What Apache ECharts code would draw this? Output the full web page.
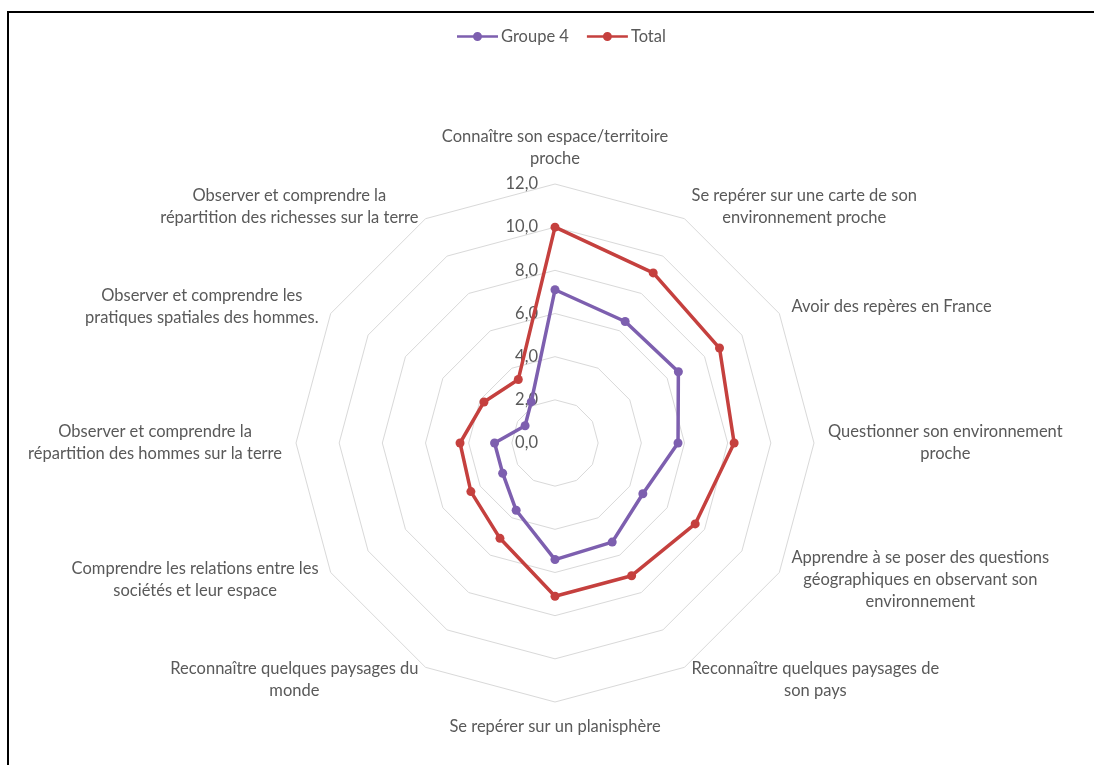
<!DOCTYPE html>
<html>
<head>
<meta charset="utf-8">
<script src="https://cdn.jsdelivr.net/npm/echarts@6/dist/echarts.min.js"></script>
<style>
html,body{margin:0;padding:0;background:#fff;}
#chart{position:absolute;left:0;top:0;width:1094px;height:765px;}
#frame{position:absolute;left:7px;top:11px;width:1087px;height:754px;border-left:2px solid #000;border-top:2px solid #000;box-sizing:border-box;pointer-events:none;}
</style>
</head>
<body>
<div id="chart"></div>
<div id="frame"></div>
<script>
// Axes listed clockwise starting from the top
const categories = [
  "Connaître son espace/territoire\nproche",
  "Se repérer sur une carte de son\nenvironnement proche",
  "Avoir des repères en France",
  "Questionner son environnement\nproche",
  "Apprendre à se poser des questions\ngéographiques en observant son\nenvironnement",
  "Reconnaître quelques paysages de\nson pays",
  "Se repérer sur un planisphère",
  "Reconnaître quelques paysages du\nmonde",
  "Comprendre les relations entre les\nsociétés et leur espace",
  "Observer et comprendre la\nrépartition des hommes sur la terre",
  "Observer et comprendre les\npratiques spatiales des hommes.",
  "Observer et comprendre la\nrépartition des richesses sur la terre"
];
const groupe4 = [7.1, 6.5, 6.6, 5.7, 4.7, 5.3, 5.4, 3.6, 2.8, 2.8, 1.6, 2.2];
const total   = [10.0, 9.1, 8.8, 8.3, 7.5, 7.1, 7.1, 5.1, 4.5, 4.4, 3.8, 3.4];
const seriesNames = ["Groupe 4", "Total"];
const axisMin = 0, axisMax = 12, axisSplits = 6;

// ECharts places radar indicators counter-clockwise: reorder so the chart reads clockwise
const order = [0].concat(categories.map((_, i) => i).slice(1).reverse());
const reorder = arr => order.map(i => arr[i]);

const textColor = '#595959';
const fontFamily = 'Lato, "Open Sans", sans-serif';
const fontSize = 16.5;
const colors = ['#7D5FAF', '#C5403E'];

const indicator = reorder(categories).map((name, k) => {
  const ind = { name: name, min: axisMin, max: axisMax };
  if (k === 0) {
    ind.axisLabel = {
      show: true,
      color: textColor,
      fontSize: fontSize,
      fontFamily: fontFamily,
      margin: 17,
      formatter: v => Number(v).toFixed(1).replace('.', ',')
    };
  }
  return ind;
});

const legendIcon = 'path://M0,3.25H41V5.75H0Z M16,4.5A4.5,4.5 0 1 1 25,4.5A4.5,4.5 0 1 1 16,4.5Z';

const chart = echarts.init(document.getElementById('chart'), null, { renderer: 'canvas' });
chart.setOption({
  backgroundColor: '#fff',
  animation: false,
  color: colors,
  legend: {
    top: 23,
    left: 452,
    itemWidth: 41,
    itemHeight: 9,
    itemGap: 18,
    icon: legendIcon,
    textStyle: { color: textColor, fontSize: fontSize, fontFamily: fontFamily, padding: [0, 0, 0, -2] },
    data: seriesNames
  },
  radar: {
    center: [555, 443],
    radius: 259,
    startAngle: 90,
    shape: 'polygon',
    splitNumber: axisSplits,
    nameGap: 14,
    axisName: {
      color: textColor,
      fontSize: fontSize,
      fontFamily: fontFamily,
      lineHeight: 22,
      formatter: function (name) {
        return name.split('\n').map(l => '{c|' + l + '}').join('\n');
      },
      rich: { c: { align: 'center', color: textColor, fontSize: fontSize, fontFamily: fontFamily, lineHeight: 22 } }
    },
    axisLine: { show: false },
    axisTick: { show: false },
    axisLabel: { show: false },
    splitLine: { lineStyle: { color: '#D9D9D9', width: 1 } },
    splitArea: { show: false },
    indicator: indicator
  },
  series: [{
    type: 'radar',
    symbol: 'circle',
    symbolSize: 9,
    data: [
      { name: seriesNames[0], value: reorder(groupe4),
        lineStyle: { color: colors[0], width: 3.5 }, itemStyle: { color: colors[0] } },
      { name: seriesNames[1], value: reorder(total),
        lineStyle: { color: colors[1], width: 3.5 }, itemStyle: { color: colors[1] } }
    ]
  }]
});
</script>
</body>
</html>
